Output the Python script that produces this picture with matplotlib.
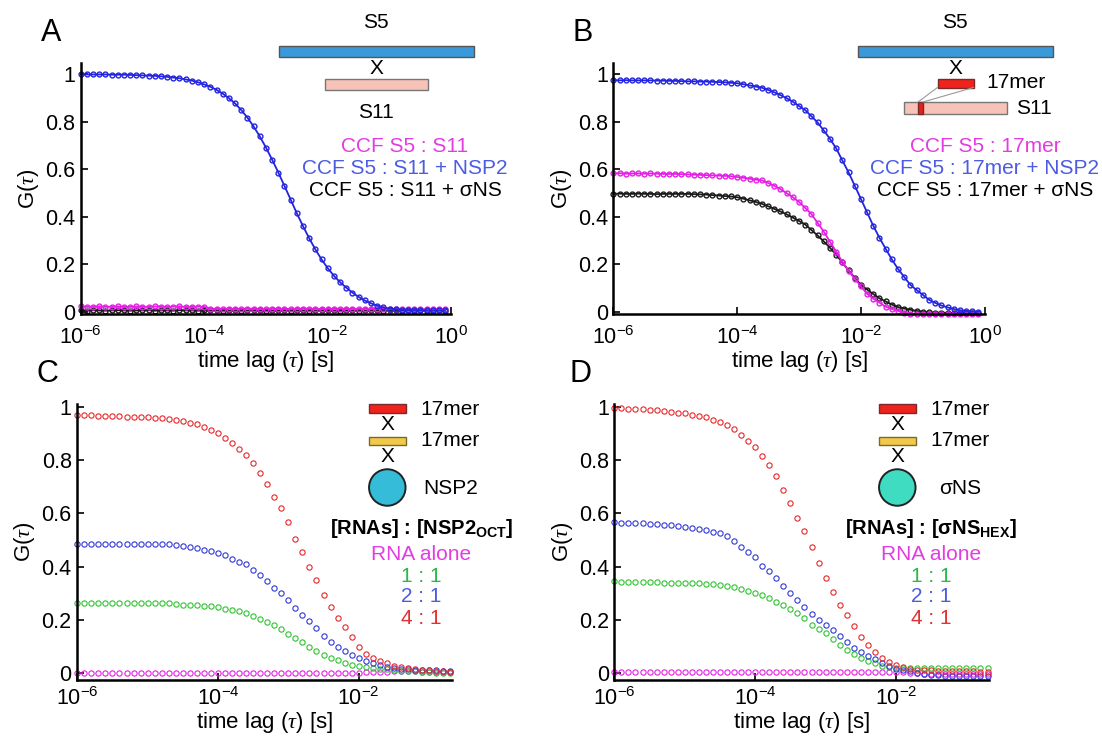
import numpy as np
import matplotlib
matplotlib.use("Agg")
import matplotlib.pyplot as plt
from matplotlib.patches import Rectangle, Ellipse
from matplotlib.lines import Line2D
from matplotlib.ticker import NullLocator

plt.rcParams['font.family'] = ['Liberation Sans', 'DejaVu Sans']
plt.rcParams['mathtext.fontset'] = 'custom'
plt.rcParams['mathtext.rm'] = 'Liberation Sans'
plt.rcParams['mathtext.it'] = 'Liberation Serif:italic'
plt.rcParams['mathtext.bf'] = 'Liberation Sans:bold'

# lag times (log10 of seconds)
lag_ab = [-6.0, -5.9, -5.8, -5.7, -5.6, -5.5, -5.4, -5.3, -5.2, -5.1,
          -5.0, -4.9, -4.8, -4.7, -4.6, -4.5, -4.4, -4.3, -4.2, -4.1,
          -4.0, -3.9, -3.8, -3.7, -3.6, -3.5, -3.4, -3.3, -3.2, -3.1,
          -3.0, -2.9, -2.8, -2.7, -2.6, -2.5, -2.4, -2.3, -2.2, -2.1,
          -2.0, -1.9, -1.8, -1.7, -1.6, -1.5, -1.4, -1.3, -1.2, -1.1,
          -1.0, -0.9, -0.8, -0.7, -0.6, -0.5, -0.4, -0.3, -0.2, -0.1]
lag_cd = [-6.0, -5.9, -5.8, -5.7, -5.6, -5.5, -5.4, -5.3, -5.2, -5.1,
          -5.0, -4.9, -4.8, -4.7, -4.6, -4.5, -4.4, -4.3, -4.2, -4.1,
          -4.0, -3.9, -3.8, -3.7, -3.6, -3.5, -3.4, -3.3, -3.2, -3.1,
          -3.0, -2.9, -2.8, -2.7, -2.6, -2.5, -2.4, -2.3, -2.2, -2.1,
          -2.0, -1.9, -1.8, -1.7, -1.6, -1.5, -1.4, -1.3, -1.2, -1.1,
          -1.0, -0.9, -0.8, -0.7]

# panel A: CCF S5 : S11
a_s11 = [0.022, 0.020, 0.021, 0.022, 0.020, 0.021, 0.022, 0.021, 0.020, 0.022,
         0.021, 0.020, 0.022, 0.021, 0.020, 0.021, 0.022, 0.020, 0.021, 0.021,
         0.020, 0.013, 0.012, 0.012, 0.013, 0.011, 0.012, 0.013, 0.012, 0.011,
         0.012, 0.013, 0.012, 0.012, 0.011, 0.012, 0.013, 0.012, 0.012, 0.011,
         0.012, 0.012, 0.013, 0.011, 0.012, 0.012, 0.011, 0.012, 0.013, 0.012,
         0.011, 0.012, 0.012, 0.011, 0.012, 0.010, 0.011, 0.010, 0.011, 0.010]
a_nsp2 = [1.000, 0.999, 0.999, 0.999, 0.999, 0.998, 0.998, 0.998, 0.997, 0.996,
          0.995, 0.994, 0.993, 0.991, 0.989, 0.986, 0.983, 0.978, 0.973, 0.966,
          0.957, 0.947, 0.934, 0.918, 0.899, 0.877, 0.849, 0.817, 0.780, 0.738,
          0.691, 0.640, 0.586, 0.529, 0.472, 0.414, 0.360, 0.309, 0.262, 0.220,
          0.183, 0.151, 0.124, 0.101, 0.080, 0.062, 0.047, 0.035, 0.025, 0.018,
          0.013, 0.010, 0.008, 0.007, 0.006, 0.006, 0.005, 0.005, 0.005, 0.005]
a_sns = [0.005, 0.004, 0.006, 0.005, 0.004, 0.005, 0.006, 0.005, 0.004, 0.005,
         0.005, 0.006, 0.004, 0.005, 0.005, 0.004, 0.006, 0.005, 0.005, 0.004,
         0.005, 0.005, 0.006, 0.004, 0.005, 0.005, 0.004, 0.005, 0.006, 0.005,
         0.004, 0.005, 0.005, 0.006, 0.004, 0.005, 0.005, 0.004, 0.005, 0.005,
         0.006, 0.005, 0.004, 0.005, 0.005, 0.004, 0.005, 0.006, 0.005, 0.004,
         0.005, 0.005, 0.004, 0.005, 0.004, 0.005, 0.004, 0.004, 0.005, 0.004]

# panel B: CCF S5 : 17mer
b_17mer = [0.582, 0.583, 0.581, 0.582, 0.582, 0.581, 0.582, 0.581, 0.580, 0.580,
           0.580, 0.579, 0.578, 0.577, 0.576, 0.575, 0.574, 0.573, 0.572, 0.570,
           0.567, 0.564, 0.560, 0.556, 0.553, 0.542, 0.530, 0.516, 0.499, 0.482,
           0.462, 0.437, 0.411, 0.374, 0.337, 0.295, 0.253, 0.210, 0.172, 0.139,
           0.107, 0.075, 0.055, 0.038, 0.021, 0.011, 0.003, -0.005, -0.008, -0.010,
           -0.010, -0.010, -0.011, -0.010, -0.010, -0.011, -0.010, -0.010, -0.011, -0.010]
b_nsp2 = [0.975, 0.974, 0.975, 0.974, 0.974, 0.974, 0.974, 0.973, 0.973, 0.972,
          0.972, 0.971, 0.970, 0.970, 0.969, 0.969, 0.968, 0.967, 0.966, 0.964,
          0.962, 0.958, 0.953, 0.948, 0.943, 0.934, 0.924, 0.912, 0.899, 0.884,
          0.866, 0.849, 0.823, 0.797, 0.763, 0.728, 0.688, 0.637, 0.587, 0.531,
          0.475, 0.418, 0.362, 0.311, 0.265, 0.220, 0.180, 0.146, 0.113, 0.091,
          0.071, 0.050, 0.037, 0.026, 0.018, 0.011, 0.006, 0.003, 0.001, 0.000]
b_sns = [0.496, 0.497, 0.496, 0.496, 0.497, 0.496, 0.496, 0.495, 0.496, 0.496,
         0.496, 0.496, 0.496, 0.495, 0.494, 0.493, 0.491, 0.489, 0.487, 0.485,
         0.482, 0.476, 0.469, 0.462, 0.454, 0.444, 0.433, 0.422, 0.410, 0.396,
         0.382, 0.367, 0.344, 0.321, 0.296, 0.269, 0.240, 0.207, 0.174, 0.143,
         0.113, 0.093, 0.074, 0.056, 0.043, 0.030, 0.019, 0.013, 0.008, 0.003,
         0.000, -0.003, -0.004, -0.004, -0.005, -0.005, -0.004, -0.005, -0.005, -0.005]

# panel C: 17mer x 17mer x NSP2
c_alone = [0.001, 0.000, 0.001, 0.000, 0.001, 0.000, 0.000, 0.001, 0.000, 0.001,
           0.000, 0.001, 0.000, 0.000, 0.001, 0.000, 0.001, 0.000, 0.000, 0.001,
           0.000, 0.001, 0.000, 0.001, 0.000, 0.000, 0.001, 0.000, 0.001, 0.000,
           0.000, 0.001, 0.000, 0.001, 0.000, 0.001, 0.000, 0.001, 0.001, 0.002,
           0.003, 0.004, 0.005, 0.006, 0.006, 0.007, 0.007, 0.007, 0.007, 0.006,
           0.006, 0.005, 0.005, 0.004]
c_11 = [0.265, 0.264, 0.263, 0.264, 0.263, 0.263, 0.262, 0.263, 0.262, 0.262,
        0.262, 0.262, 0.262, 0.262, 0.261, 0.258, 0.256, 0.255, 0.253, 0.251,
        0.247, 0.243, 0.239, 0.235, 0.225, 0.216, 0.205, 0.192, 0.181, 0.166,
        0.149, 0.132, 0.117, 0.099, 0.083, 0.070, 0.057, 0.049, 0.039, 0.031,
        0.026, 0.023, 0.020, 0.017, 0.015, 0.012, 0.010, 0.008, 0.007, 0.006,
        0.004, 0.003, 0.002, 0.001]
c_21 = [0.486, 0.485, 0.486, 0.485, 0.485, 0.486, 0.485, 0.485, 0.486, 0.485,
        0.485, 0.485, 0.485, 0.484, 0.482, 0.479, 0.475, 0.469, 0.463, 0.457,
        0.452, 0.442, 0.429, 0.418, 0.409, 0.389, 0.367, 0.346, 0.320, 0.301,
        0.274, 0.244, 0.220, 0.196, 0.170, 0.140, 0.119, 0.099, 0.084, 0.069,
        0.056, 0.046, 0.037, 0.030, 0.024, 0.020, 0.017, 0.015, 0.013, 0.012,
        0.012, 0.011, 0.010, 0.010]
c_41 = [0.969, 0.968, 0.967, 0.966, 0.965, 0.965, 0.964, 0.963, 0.962, 0.961,
        0.960, 0.958, 0.956, 0.953, 0.949, 0.946, 0.940, 0.934, 0.925, 0.913,
        0.900, 0.883, 0.865, 0.843, 0.819, 0.789, 0.750, 0.710, 0.663, 0.621,
        0.566, 0.505, 0.455, 0.399, 0.351, 0.295, 0.250, 0.207, 0.172, 0.138,
        0.100, 0.073, 0.057, 0.047, 0.037, 0.029, 0.023, 0.019, 0.016, 0.014,
        0.011, 0.009, 0.007, 0.005]

# panel D: 17mer x 17mer x sigmaNS
d_alone = [0.006, 0.005, 0.006, 0.006, 0.005, 0.006, 0.006, 0.005, 0.006, 0.006,
           0.005, 0.006, 0.006, 0.005, 0.006, 0.006, 0.005, 0.006, 0.006, 0.005,
           0.006, 0.006, 0.005, 0.006, 0.006, 0.005, 0.006, 0.006, 0.005, 0.006,
           0.006, 0.005, 0.006, 0.006, 0.005, 0.006, 0.006, 0.005, 0.006, 0.005,
           0.006, 0.004, 0.002, 0.000, -0.002, -0.003, -0.003, -0.004, -0.003, -0.004,
           -0.003, -0.004, -0.003, -0.004]
d_11 = [0.345, 0.344, 0.344, 0.343, 0.342, 0.342, 0.341, 0.340, 0.340, 0.339,
        0.339, 0.338, 0.337, 0.336, 0.334, 0.331, 0.327, 0.322, 0.316, 0.309,
        0.302, 0.295, 0.282, 0.269, 0.257, 0.243, 0.225, 0.207, 0.183, 0.166,
        0.150, 0.128, 0.107, 0.087, 0.072, 0.059, 0.046, 0.037, 0.029, 0.024,
        0.020, 0.019, 0.019, 0.019, 0.020, 0.019, 0.019, 0.020, 0.019, 0.019,
        0.019, 0.020, 0.019, 0.019]
d_21 = [0.566, 0.565, 0.564, 0.563, 0.562, 0.560, 0.559, 0.558, 0.556, 0.553,
        0.550, 0.546, 0.541, 0.536, 0.531, 0.525, 0.514, 0.497, 0.474, 0.454,
        0.435, 0.404, 0.383, 0.356, 0.329, 0.302, 0.276, 0.250, 0.222, 0.200,
        0.181, 0.163, 0.140, 0.118, 0.096, 0.080, 0.065, 0.052, 0.039, 0.029,
        0.018, 0.012, 0.007, 0.001, -0.002, -0.005, -0.008, -0.010, -0.010, -0.010,
        -0.010, -0.011, -0.010, -0.010]
d_41 = [0.995, 0.994, 0.993, 0.992, 0.990, 0.988, 0.986, 0.984, 0.981, 0.978,
        0.975, 0.970, 0.965, 0.960, 0.951, 0.941, 0.930, 0.915, 0.893, 0.872,
        0.849, 0.816, 0.780, 0.740, 0.688, 0.637, 0.581, 0.535, 0.475, 0.415,
        0.356, 0.305, 0.258, 0.218, 0.177, 0.138, 0.106, 0.080, 0.056, 0.042,
        0.030, 0.023, 0.017, 0.014, 0.012, 0.011, 0.010, 0.009, 0.008, 0.008,
        0.007, 0.007, 0.006, 0.006]

ccf_labels_a = ['CCF S5 : S11', 'CCF S5 : S11 + NSP2', 'CCF S5 : S11 + σNS']
ccf_labels_b = ['CCF S5 : 17mer', 'CCF S5 : 17mer + NSP2', 'CCF S5 : 17mer + σNS']
ratio_labels = ['RNA alone', '1 : 1', '2 : 1', '4 : 1']

BLUE = '#2323e0'
MAG = '#e61ee6'
BLK = '#1a1a1a'
RED = '#e8262b'
GRN = '#2ec42e'
CBLUE = '#3038d8'
TXT_MAG = '#e23ce2'
TXT_BLUE = '#4c5ce2'
TXT_GRN = '#2bb84a'
TXT_RED = '#e43030'

W, H = 1102, 736
fig = plt.figure(figsize=(W / 100, H / 100), dpi=100)


def fx(px):
    return px / W


def fy(py):
    return 1 - py / H


def style_axes(ax, xmax, ylim, xticks, xpad):
    ax.set_xscale('log')
    ax.set_xlim(1e-6, xmax)
    ax.set_ylim(*ylim)
    ax.set_xticks(xticks)
    ax.xaxis.set_minor_locator(NullLocator())
    ax.set_yticks([0, 0.2, 0.4, 0.6, 0.8, 1.0])
    ax.set_yticklabels(['0', '0.2', '0.4', '0.6', '0.8', '1'])
    for s in ['top', 'right']:
        ax.spines[s].set_visible(False)
    for s in ['left', 'bottom']:
        ax.spines[s].set_linewidth(1.8)
    ax.tick_params(direction='in', length=5, width=1.2, labelsize=15.5)
    ax.tick_params(axis='x', pad=xpad)
    ax.tick_params(axis='y', pad=4)
    ax.set_xlabel('time lag ($\\tau$) [s]', fontsize=16, labelpad=0)
    ax.set_ylabel('G($\\tau$)', fontsize=16, labelpad=3)


tau_ab = 10.0 ** np.array(lag_ab)
tau_cd = 10.0 ** np.array(lag_cd)

# --- panel A
axA = fig.add_axes([0.0732, 0.5727, 0.3363, 0.3413])
for ys, col in [(a_sns, BLK), (a_s11, MAG), (a_nsp2, BLUE)]:
    axA.plot(tau_ab, ys, '-o', color=col, lw=1.3, ms=3.5, mew=1.0, mfc='none', clip_on=False)
style_axes(axA, 1.0, (-0.012, 1.046), [1e-6, 1e-4, 1e-2, 1], 8)

# --- panel B
axB = fig.add_axes([0.5566, 0.5727, 0.3369, 0.3413])
for ys, col in [(b_sns, BLK), (b_17mer, MAG), (b_nsp2, BLUE)]:
    axB.plot(tau_ab, ys, '-o', color=col, lw=1.3, ms=3.5, mew=1.0, mfc='none', clip_on=False)
style_axes(axB, 1.0, (-0.012, 1.046), [1e-6, 1e-4, 1e-2, 1], 8)

# --- panels C and D
axC = fig.add_axes([0.0701, 0.0761, 0.3397, 0.375])
for ys, col in [(c_alone, MAG), (c_11, GRN), (c_21, CBLUE), (c_41, RED)]:
    axC.plot(tau_cd, ys, 'o', color=col, ms=3.8, mew=0.8, mfc='none', clip_on=False)
style_axes(axC, 10 ** -0.68, (-0.025, 1.01), [1e-6, 1e-4, 1e-2], 5)

axD = fig.add_axes([0.5575, 0.0761, 0.3399, 0.375])
for ys, col in [(d_alone, MAG), (d_11, GRN), (d_21, CBLUE), (d_41, RED)]:
    axD.plot(tau_cd, ys, 'o', color=col, ms=3.8, mew=0.8, mfc='none', clip_on=False)
style_axes(axD, 10 ** -0.68, (-0.025, 1.01), [1e-6, 1e-4, 1e-2], 5)

# panel letters
for letter, px, py in [('A', 51, 33), ('B', 583, 33), ('C', 47, 374), ('D', 581, 374)]:
    fig.text(fx(px), fy(py), letter, fontsize=22, ha='center', va='center')


def bar(x0, x1, y0, y1, face, edge='#555555'):
    fig.add_artist(Rectangle((fx(x0), fy(y1)), fx(x1) - fx(x0), fy(y0) - fy(y1),
                             transform=fig.transFigure, facecolor=face,
                             edgecolor=edge, lw=1.0))


def label(px, py, s, color='black', ha='center', size=15, weight='normal'):
    fig.text(fx(px), fy(py), s, color=color, ha=ha, va='center',
             fontsize=size, fontweight=weight)


# inset A
label(376, 23, 'S5')
bar(278.5, 474, 45.5, 56.5, '#3a9ad9')
label(376, 69, 'X')
bar(325, 427.5, 78.5, 89.5, '#f7c2b8', '#777777')
label(376, 113, 'S11')
for s, c, py in zip(ccf_labels_a, [TXT_MAG, TXT_BLUE, 'black'], [147, 168, 190]):
    label(405, py, s, color=c)

# inset B
label(955, 23, 'S5')
bar(857.5, 1053, 45.5, 56.5, '#3a9ad9')
label(955, 69, 'X')
bar(937.5, 973.5, 78.5, 87.5, '#f0221c', '#7a2a2a')
label(986, 83, '17mer', ha='left')
bar(904, 1006.5, 102, 114, '#f7c2b8', '#777777')
bar(918, 923, 102, 114, '#e8201a', '#7a2a2a')
fig.add_artist(Line2D([fx(918), fx(937.5)], [fy(102), fy(87.5)],
                      transform=fig.transFigure, color='#999999', lw=0.8))
fig.add_artist(Line2D([fx(923), fx(973.5)], [fy(102), fy(87.5)],
                      transform=fig.transFigure, color='#999999', lw=0.8))
label(1016, 108, 'S11', ha='left')
for s, c, py in zip(ccf_labels_b, [TXT_MAG, TXT_BLUE, 'black'], [147, 168, 190]):
    label(985, py, s, color=c)

# insets C and D
for cx, circ_col, name, bold in [(387.3, '#35bcd8', 'NSP2', r'[RNAs] : [NSP2$_{\mathbf{OCT}}$]'),
                                 (897.3, '#3fdcc2', 'σNS', r'[RNAs] : [σNS$_{\mathbf{HEX}}$]')]:
    bar(cx - 18, cx + 18.5, 404, 412.5, '#f0221c', '#7a2a2a')
    label(cx + 33.5, 409, '17mer', ha='left')
    label(cx, 425, 'X')
    bar(cx - 18, cx + 18.5, 436.5, 444.5, '#f2c94a', '#7a6a2a')
    label(cx + 33.5, 441, '17mer', ha='left')
    label(cx, 457, 'X')
    fig.add_artist(Ellipse((fx(cx), fy(487.5)), 36.5 / W, 36.5 / H,
                           transform=fig.transFigure, facecolor=circ_col,
                           edgecolor='#222222', lw=1.4))
    label(cx + (36 if name == 'NSP2' else 42), 488.5, name, ha='left')
    label(cx + 34, 528, bold, size=14.5, weight='bold')
    for s, c, py in zip(ratio_labels, [TXT_MAG, TXT_GRN, TXT_BLUE, TXT_RED],
                        [554, 576, 597, 618]):
        label(cx + 33.5, py, s, color=c)

fig.savefig('out.png', dpi=100)
